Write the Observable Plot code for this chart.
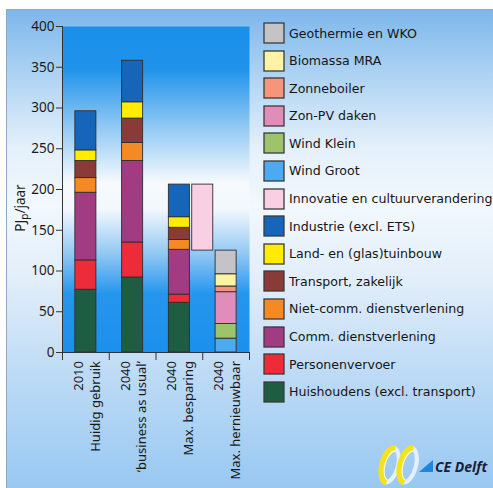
<!DOCTYPE html>
<html>
<head>
<meta charset="utf-8">
<script src="https://cdn.jsdelivr.net/npm/d3@7"></script>
<script src="https://cdn.jsdelivr.net/npm/@observablehq/plot@0.6"></script>
<style>
  html, body { margin: 0; padding: 0; background: #ffffff; }
  #root { position: relative; width: 493px; height: 488px; overflow: hidden; background: #ffffff; }
  #panel { position: absolute; left: 6px; top: 9px; width: 500px; height: 490px;
    border-left: 1px solid #8fa9c4; border-top: 1px solid #8fa9c4;
    background: linear-gradient(to bottom, #7db7ea 0%, #a9d0f2 12%, #e4f0fb 28%, #f2f8fd 40%, #e2eefa 55%, #bcdaf5 75%, #95c6f1 100%); }
  #chart { position: absolute; left: 0; top: 0; }
  #legend { position: absolute; left: 264px; top: 23px; white-space: nowrap; }
  #legend .lg-swatches-wrap { display: flex; flex-direction: column; align-items: flex-start; min-height: 0; margin: 0;
    font-family: "DejaVu Sans", sans-serif; font-size: 12.6px; color: #161616; }
  #legend .lg-swatches-wrap .lg-swatch { display: flex; align-items: center; height: 20px; margin: 0 0 7.6px 0; white-space: nowrap; }
  #legend .lg-swatch > svg { margin-right: 5px; overflow: visible; }
  #legend .lg-swatch svg rect { stroke: #3b3b3b; stroke-width: 1.3px; }
  #logo { position: absolute; left: 0; top: 0; }
</style>
</head>
<body>
<div id="root">
  <div id="panel"></div>
  <div id="chart"></div>
  <div id="legend"></div>
  <svg id="logo" width="493" height="488"></svg>
</div>
<script>
// ---- data ----
const years = ["2010", "2040", "2040", "2040"];
const scenarios = ["Huidig gebruik", "\u2018business as usual\u2019", "Max. besparing", "Max. hernieuwbaar"];
const yTicks = [0, 50, 100, 150, 200, 250, 300, 350, 400];

// legend order (top to bottom)
const seriesNames = [
  "Geothermie en WKO", "Biomassa MRA", "Zonneboiler", "Zon-PV daken", "Wind Klein", "Wind Groot",
  "Innovatie en cultuurverandering", "Industrie (excl. ETS)", "Land- en (glas)tuinbouw",
  "Transport, zakelijk", "Niet-comm. dienstverlening", "Comm. dienstverlening",
  "Personenvervoer", "Huishoudens (excl. transport)"
];
const seriesColors = [
  "#c3c3c8", "#fdf3a4", "#f5957c", "#e18dba", "#9dc46b", "#4eaaf0",
  "#f9cfe3", "#1665b9", "#ffec00", "#8a3b37", "#f58a22", "#a13c82",
  "#ee2b38", "#1f5d43"
];

// values per category (2010, 2040 BAU, 2040 max. besparing, 2040 max. hernieuwbaar), PJp/jaar
const huishoudens     = [77, 92, 61, 0];
const personenvervoer = [36, 43, 10, 0];
const commDienst      = [83, 100, 55, 0];
const nietCommDienst  = [18, 22, 12, 0];
const transportZak    = [21, 30, 15, 0];
const tuinbouw        = [13, 20, 13, 0];
const industrie       = [48, 51, 40, 0];
const windGroot       = [0, 0, 0, 17];
const windKlein       = [0, 0, 0, 18];
const zonPV           = [0, 0, 0, 39];
const zonneboiler     = [0, 0, 0, 7];
const biomassa        = [0, 0, 0, 15];
const geothermie      = [0, 0, 0, 29];
const innovatie       = 81; // gap between max. hernieuwbaar and max. besparing

const seriesValues = {
  "Huishoudens (excl. transport)": huishoudens,
  "Personenvervoer": personenvervoer,
  "Comm. dienstverlening": commDienst,
  "Niet-comm. dienstverlening": nietCommDienst,
  "Transport, zakelijk": transportZak,
  "Land- en (glas)tuinbouw": tuinbouw,
  "Industrie (excl. ETS)": industrie,
  "Wind Groot": windGroot,
  "Wind Klein": windKlein,
  "Zon-PV daken": zonPV,
  "Zonneboiler": zonneboiler,
  "Biomassa MRA": biomassa,
  "Geothermie en WKO": geothermie
};

// ---- build table ----
const half = 0.225;
const stackOrder = seriesNames.slice().reverse(); // bottom to top
const rows = [];
for (const name of stackOrder) {
  const vals = seriesValues[name];
  if (!vals) continue;
  vals.forEach((v, i) => { if (v > 0) rows.push({series: name, i, x1: i - half, x2: i + half, value: v}); });
}
const renewTotal = d3.sum(Object.values(seriesValues), a => a[3]);
const innovRows = [{series: "Innovatie en cultuurverandering", x1: 2.5 - half, x2: 2.5 + half, y1: renewTotal, y2: renewTotal + innovatie}];
const cats = years.map((y, i) => ({i, label: y + "\n" + scenarios[i]}));
const boundaries = d3.range(-0.5, 3.6, 1);

const colorScale = {domain: seriesNames, range: seriesColors};

const chart = Plot.plot({
  width: 493, height: 488,
  marginLeft: 62, marginRight: 244, marginTop: 26, marginBottom: 136,
  style: {background: "transparent", fontFamily: "'Noto Sans', sans-serif", fontSize: "13px", color: "#1a1a1a", overflow: "visible"},
  x: {type: "linear", domain: [-0.5, 3.5], axis: null},
  y: {domain: [0, 400], axis: null},
  color: colorScale,
  marks: [
    Plot.frame({fill: "url(#plotgrad)", stroke: "none"}),
    Plot.rectY(rows, Plot.stackY({x1: "x1", x2: "x2", y: "value", z: "series", fill: "series", order: stackOrder,
      stroke: "#2e2e2e", strokeWidth: 0.9})),
    Plot.rectY(innovRows, {x1: "x1", x2: "x2", y1: "y1", y2: "y2", fill: "series", stroke: "#2e2e2e", strokeWidth: 0.9}),
    Plot.ruleX([-0.5], {stroke: "#333", strokeWidth: 1}),
    Plot.ruleY([0], {stroke: "#333", strokeWidth: 1}),
    Plot.axisY({ticks: yTicks, tickSize: 6, tickPadding: 2, label: null, stroke: "#333", fontSize: 13.5}),
    Plot.axisX({ticks: boundaries, tickFormat: () => "", tickSize: 8, label: null, stroke: "#333"}),
    Plot.text(cats, {x: "i", y: 0, text: "label", rotate: -90, textAnchor: "end", lineAnchor: "middle",
      lineHeight: 1.3, dy: 8.5, fontSize: 13, fill: "#1a1a1a"})
  ]
});

const svg = d3.select(chart);
const defs = svg.insert("defs", ":first-child");
const g = defs.append("linearGradient").attr("id", "plotgrad").attr("x1", 0).attr("y1", 0).attr("x2", 0).attr("y2", 1);
[[0, "#1a8fe9"], [0.13, "#1f93ea"], [0.3, "#8cc6f3"], [0.48, "#f6fafd"], [0.56, "#f3f8fd"], [0.7, "#8fc7f3"], [0.82, "#2596ed"], [1, "#1b90ec"]]
  .forEach(([o, c]) => g.append("stop").attr("offset", o).attr("stop-color", c));

// y-axis label with subscript
const lbl = svg.append("text")
  .attr("transform", "translate(20,208) rotate(-90)")
  .attr("text-anchor", "middle")
  .attr("font-family", "'Noto Sans', sans-serif")
  .attr("font-size", 13.5)
  .attr("fill", "#1a1a1a")
  .attr("dy", "0.35em");
lbl.append("tspan").text("PJ");
lbl.append("tspan").attr("font-size", 10).attr("dy", 3).text("p");
lbl.append("tspan").attr("dy", -3).text("/jaar");

document.getElementById("chart").appendChild(chart);

// legend
const legend = Plot.legend({color: colorScale, legend: "swatches", swatchSize: 20, className: "lg"});
document.getElementById("legend").appendChild(legend);

// logo: two ribbon rings, a triangle and the name
const logo = d3.select("#logo");
[[389, 465], [407, 465]].forEach(([cx, cy]) => {
  const t = `rotate(15 ${cx} ${cy})`;
  // light right half of the ribbon
  logo.append("path").attr("transform", t)
    .attr("d", `M ${cx} ${cy - 18} A 9 18 0 0 1 ${cx} ${cy + 18}`)
    .attr("fill", "none").attr("stroke", "#e4f1fb").attr("stroke-width", 4);
  // yellow left half
  logo.append("path").attr("transform", t)
    .attr("d", `M ${cx + 2} ${cy - 18} A 9 18 0 0 0 ${cx + 2} ${cy + 18}`)
    .attr("fill", "none").attr("stroke", "#f2e31c").attr("stroke-width", 5.5);
  logo.append("path").attr("transform", t)
    .attr("d", `M ${cx + 3} ${cy - 15} A 7 15 0 0 0 ${cx + 3} ${cy + 15}`)
    .attr("fill", "none").attr("stroke", "#fffbd0").attr("stroke-width", 1.2);
});
logo.append("polygon").attr("points", "419,472 433,472 433,460").attr("fill", "#1f86dc");
logo.append("text").attr("x", 435).attr("y", 472)
  .attr("font-family", "'Open Sans', sans-serif").attr("font-weight", "bold").attr("font-style", "italic")
  .attr("font-size", 14).attr("fill", "#1b1b3a").text("CE Delft");
</script>
</body>
</html>
